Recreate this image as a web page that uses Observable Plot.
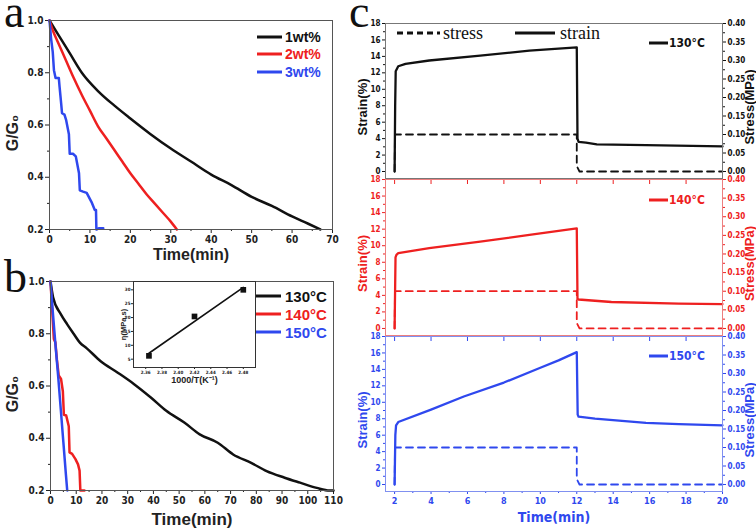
<!DOCTYPE html>
<html><head><meta charset="utf-8">
<script src="https://cdn.jsdelivr.net/npm/d3@7"></script>
<script src="https://cdn.jsdelivr.net/npm/@observablehq/plot@0.6"></script>
<style>
body{margin:0;background:#fff;}
#root{position:relative;width:756px;height:530px;overflow:hidden;background:#fff;}
#root > .p{position:absolute;}
.lbl{position:absolute;white-space:nowrap;}
.leg{position:absolute;display:flex;align-items:center;white-space:nowrap;}
</style></head><body><div id="root"></div>
<script>
// ---------- Panel a: G/G0 vs time, concentrations ----------
const aTime1  = [0, 2, 5, 8, 12, 16, 20, 25, 30, 35, 40, 45, 50, 55, 60, 64, 67];
const aRatio1 = [1.0, 0.95, 0.875, 0.80, 0.73, 0.675, 0.625, 0.565, 0.51, 0.46, 0.41, 0.37, 0.325, 0.29, 0.25, 0.222, 0.2];
const aTime2  = [0, 1, 2, 4, 6, 8, 10, 12, 14, 16, 18, 20, 22, 24, 26, 28, 30, 31.5];
const aRatio2 = [1.0, 0.955, 0.92, 0.85, 0.78, 0.715, 0.655, 0.595, 0.55, 0.505, 0.46, 0.415, 0.375, 0.335, 0.3, 0.265, 0.23, 0.2];
const aTime3  = [0, 0.4, 0.8, 1.1, 1.5, 2.3, 2.5, 2.9, 3.1, 3.7, 4.1, 4.8, 5.0, 5.8, 6.5, 7.3, 7.5, 8.3, 9.2, 10.4, 11.2, 11.5, 11.6, 12.3, 13.3];
const aRatio3 = [1.0, 0.93, 0.88, 0.81, 0.78, 0.78, 0.745, 0.68, 0.645, 0.64, 0.62, 0.565, 0.49, 0.49, 0.48, 0.415, 0.35, 0.345, 0.34, 0.305, 0.275, 0.275, 0.2, 0.205, 0.205];
const aLabels = ["1wt%", "2wt%", "3wt%"];

// ---------- Panel b: G/G0 vs time, temperatures ----------
const bTime130  = [0, 1, 4, 6.5, 9, 11.5, 14, 19.5, 26, 32.5, 39, 45, 52, 58, 65, 71, 78, 84, 91, 97, 103.5, 108.5, 110];
const bRatio130 = [1.0, 0.94, 0.875, 0.836, 0.8, 0.765, 0.745, 0.695, 0.652, 0.607, 0.556, 0.505, 0.46, 0.415, 0.383, 0.338, 0.306, 0.274, 0.249, 0.23, 0.21, 0.2, 0.2];
const bTime140  = [0, 0.6, 1.3, 1.9, 2.5, 3.2, 4.1, 4.8, 5.2, 6.1, 7.1, 7.4, 8.4, 9.7, 10.7, 11.3, 11.6, 13.2];
const bRatio140 = [1.0, 0.9, 0.78, 0.767, 0.7, 0.64, 0.627, 0.58, 0.49, 0.487, 0.446, 0.346, 0.34, 0.32, 0.3, 0.276, 0.2, 0.2];
const bTime150  = [0, 1, 2, 3, 4, 5, 6, 6.5];
const bRatio150 = [1.0, 0.87, 0.75, 0.635, 0.51, 0.385, 0.26, 0.2];
const bLabels = ["130°C", "140°C", "150°C"];

// ---------- Inset: viscosity vs 1000/T ----------
const insetInvT = [2.364, 2.42, 2.48];
const insetVisc = [6.2, 20.4, 30.0];
const insetXTicks = [2.36, 2.38, 2.40, 2.42, 2.44, 2.46, 2.48];
const insetYTicks = [5, 10, 15, 20, 25, 30];

// ---------- Panel c: creep strain and stress ----------
const cTime130   = [2, 2.03, 2.06, 2.2, 2.6, 3.9, 6.7, 9.4, 12.0, 12.04, 12.1, 12.5, 13.1, 15.8, 20];
const cStrain130 = [0, 8, 12.2, 12.8, 13.1, 13.5, 14.1, 14.7, 15.1, 4.0, 3.6, 3.5, 3.3, 3.2, 3.05];
const cTime140   = [2, 2.05, 2.1, 2.2, 3.9, 6.7, 9.4, 12.0, 12.04, 12.1, 13.9, 17.6, 20];
const cStrain140 = [0, 8.6, 8.9, 9.1, 9.7, 10.5, 11.3, 12.1, 3.6, 3.5, 3.2, 3.0, 2.95];
const cTime150   = [2, 2.04, 2.08, 2.2, 4, 5.8, 8, 10, 11, 12, 12.05, 12.1, 13, 15.8, 17.6, 20];
const cStrain150 = [0, 6, 7.2, 7.6, 9.1, 10.7, 12.4, 14.2, 15.1, 16.1, 8.5, 8.25, 8.0, 7.5, 7.35, 7.2];
const cStressTime = [2, 2.02, 12, 12, 12.15, 20];
const cStress     = [0, 0.1, 0.1, 0.015, 0, 0];
const cLabels = ["130°C", "140°C", "150°C"];

// ---------- Ticks ----------
const aTimeTicks = [0, 10, 20, 30, 40, 50, 60, 70];
const aTimeMinor = [5, 15, 25, 35, 45, 55, 65];
const bTimeTicks = [0, 10, 20, 30, 40, 50, 60, 70, 80, 90, 100, 110];
const bTimeMinor = [5, 15, 25, 35, 45, 55, 65, 75, 85, 95, 105];
const ratioTicks = [0.2, 0.4, 0.6, 0.8, 1.0];
const ratioMinor = [0.3, 0.5, 0.7, 0.9];
const cTimeTicks = [2, 4, 6, 8, 10, 12, 14, 16, 18, 20];
const cTimeMinor = [3, 5, 7, 9, 11, 13, 15, 17, 19];
const cStrainTicks = [0, 2, 4, 6, 8, 10, 12, 14, 16, 18];
const cStrainMinor = [1, 3, 5, 7, 9, 11, 13, 15, 17];
const cStressTicks = [0, 0.05, 0.10, 0.15, 0.20, 0.25, 0.30, 0.35, 0.40];
const cStressMinor = [0.025, 0.075, 0.125, 0.175, 0.225, 0.275, 0.325, 0.375];

const BLACK = "#111111", RED = "#ee2020", BLUE = "#2f48ee";
const NARROW = "'Liberation Sans Narrow','Arial Narrow','DejaVu Sans Condensed',sans-serif";
const SANS = "'Liberation Sans',Arial,sans-serif";
const SERIF = "'Liberation Serif','Times New Roman',serif";
const K = 18 / 0.40; // stress (MPa) -> strain-axis units
const MID = {textAnchor: "middle", lineAnchor: "middle"};

const rows = (ts, vs) => ts.map((t, i) => ({t, v: vs[i]}));
const root = document.getElementById("root");
function put(el, left, top) {
  const d = document.createElement("div");
  d.className = "p"; d.style.left = left + "px"; d.style.top = top + "px";
  d.appendChild(el); root.appendChild(d);
}
const baseStyle = (size, font = NARROW) => ({fontFamily: font, fontSize: size + "px", fontWeight: "bold", background: "transparent", overflow: "visible", color: "#222", maxWidth: "none"});

// ---------- Panel a ----------
put(Plot.plot({
  width: 380, height: 262, marginLeft: 49, marginRight: 48, marginTop: 20, marginBottom: 33,
  x: {domain: [0, 70], axis: null}, y: {domain: [0.2, 1.0], axis: null},
  style: baseStyle(10),
  marks: [
    Plot.axisX(aTimeTicks, {tickSize: 4, tickPadding: 2, label: null}),
    Plot.axisX(aTimeMinor, {tickSize: 2, fill: "none", label: null}),
    Plot.axisY(ratioTicks, {tickSize: 4, tickPadding: 2, tickFormat: ".1f", label: null}),
    Plot.axisY(ratioMinor, {tickSize: 2, fill: "none", label: null}),
    Plot.line(rows(aTime1, aRatio1), {x: "t", y: "v", stroke: BLACK, strokeWidth: 2.5, curve: "monotone-x"}),
    Plot.line(rows(aTime2, aRatio2), {x: "t", y: "v", stroke: RED, strokeWidth: 2.5, curve: "monotone-x"}),
    Plot.line(rows(aTime3, aRatio3), {x: "t", y: "v", stroke: BLUE, strokeWidth: 2.5}),
    Plot.frame({stroke: "#555"}),
    Plot.text(["Time(min)"], {frameAnchor: "bottom", dy: 25, fontSize: 16, fontFamily: SANS, ...MID}),
    Plot.text(["G/G₀"], {frameAnchor: "left", dx: -37, dy: 8, rotate: -90, fontSize: 16, fontFamily: SANS, ...MID})
  ]
}), 0, 0);

// ---------- Panel b ----------
put(Plot.plot({
  width: 380, height: 270, marginLeft: 50, marginRight: 47, marginTop: 21, marginBottom: 40,
  x: {domain: [0, 110], axis: null}, y: {domain: [0.2, 1.0], axis: null},
  style: baseStyle(10),
  marks: [
    Plot.axisX(bTimeTicks, {tickSize: 4, tickPadding: 2, label: null}),
    Plot.axisX(bTimeMinor, {tickSize: 2, fill: "none", label: null}),
    Plot.axisY(ratioTicks, {tickSize: 4, tickPadding: 2, tickFormat: ".1f", label: null}),
    Plot.axisY(ratioMinor, {tickSize: 2, fill: "none", label: null}),
    Plot.line(rows(bTime130, bRatio130), {x: "t", y: "v", stroke: BLACK, strokeWidth: 2.5, curve: "monotone-x"}),
    Plot.line(rows(bTime140, bRatio140), {x: "t", y: "v", stroke: RED, strokeWidth: 2.5}),
    Plot.line(rows(bTime150, bRatio150), {x: "t", y: "v", stroke: BLUE, strokeWidth: 2.5}),
    Plot.frame({stroke: "#555"}),
    Plot.text(["Time(min)"], {frameAnchor: "bottom", dy: 29, fontSize: 17, fontFamily: SANS, ...MID}),
    Plot.text(["G/G₀"], {frameAnchor: "left", dx: -38, dy: 8, rotate: -90, fontSize: 16, fontFamily: SANS, ...MID})
  ]
}), 0, 260);

// ---------- Inset ----------
put(Plot.plot({
  width: 162, height: 116, marginLeft: 30, marginRight: 10, marginTop: 10, marginBottom: 20,
  x: {domain: [2.345, 2.495], axis: null}, y: {domain: [2, 33], axis: null},
  style: baseStyle(4.5),
  marks: [
    Plot.frame({fill: "white", stroke: "none"}),
    Plot.axisX(insetXTicks, {tickSize: 2, tickPadding: 1, tickFormat: ".2f", label: null}),
    Plot.axisY(insetYTicks, {tickSize: 2, tickPadding: 1, label: null}),
    Plot.linearRegressionY(rows(insetInvT, insetVisc), {x: "t", y: "v", ci: 0, stroke: BLACK, strokeWidth: 1.6}),
    Plot.dot(rows(insetInvT, insetVisc), {x: "t", y: "v", symbol: "square", r: 3.2, fill: BLACK}),
    Plot.frame({stroke: "#333"}),
    Plot.text(["1000/T(K⁻¹)"], {frameAnchor: "bottom", dy: 13, fontSize: 9, fontFamily: SANS, ...MID}),
    Plot.text(["η(MPa.s)"], {frameAnchor: "left", dx: -10, rotate: -90, fontSize: 7.5, fontFamily: SANS, ...MID})
  ]
}), 103, 271);

// ---------- Panel c ----------
function cPanel(strainRows, color, frameColor, height, mt, mb, showX, topTicks) {
  return Plot.plot({
    width: 426, height, marginLeft: 55, marginRight: 34, marginTop: mt, marginBottom: mb,
    x: {domain: [1.5, 20], axis: null}, y: {domain: [-0.85, 18], axis: null},
    style: baseStyle(8),
    marks: [
      Plot.axisY(cStrainTicks, {tickSize: 3, tickPadding: 2, color, label: null}),
      Plot.axisY(cStrainMinor, {tickSize: 2, stroke: color, fill: "none", label: null}),
      Plot.axisY(cStressTicks.map(s => s * K), {anchor: "right", tickSize: 3, tickPadding: 2, color, label: null, tickFormat: d => (d / K).toFixed(2)}),
      Plot.axisY(cStressMinor.map(s => s * K), {anchor: "right", tickSize: 2, stroke: color, fill: "none", label: null}),
      showX ? Plot.axisX(cTimeTicks, {tickSize: 3, tickPadding: 3, color, label: null, fontSize: 9}) : null,
      showX ? Plot.axisX(cTimeMinor, {tickSize: 2, stroke: color, fill: "none", label: null}) : null,
      topTicks ? Plot.axisX(cTimeTicks, {anchor: "top", tickSize: -4, stroke: color, fill: "none", label: null}) : null,
      Plot.line(rows(cStressTime, cStress), {x: "t", y: d => d.v * K, stroke: color, strokeWidth: 1.8, strokeDasharray: "7,5"}),
      Plot.line(strainRows, {x: "t", y: "v", stroke: color, strokeWidth: 2.3}),
      Plot.frame({stroke: frameColor}),
      Plot.text(["Strain(%)"], {frameAnchor: "left", dx: -23, dy: 6, rotate: -90, fill: color, fontSize: 13, fontFamily: SANS, ...MID}),
      Plot.text(["Stress(MPa)"], {frameAnchor: "right", dx: 27, dy: 6, rotate: -90, fill: color, fontSize: 13, fontFamily: SANS, ...MID}),
      showX ? Plot.text(["Time(min)"], {frameAnchor: "bottom", dy: 26, fill: color, fontSize: 14, ...MID}) : null
    ]
  });
}
put(cPanel(rows(cTime130, cStrain130), BLACK, "#777", 178, 23, 0, false, false), 330, 0);
put(cPanel(rows(cTime140, cStrain140), RED, "#ec7f7f", 156, 0, 0, false, true), 330, 179);
put(cPanel(rows(cTime150, cStrain150), BLUE, "#8090f0", 195, 0, 40, true, true), 330, 336);

// ---------- Legends & panel letters ----------
function legendRow(left, cy, color, label, {w = 25, size = 14, font = SANS, weight = "bold", dash = null, sw = 3, gap = 3} = {}) {
  const d = document.createElement("div");
  d.className = "leg";
  d.style.left = left + "px"; d.style.top = (cy - 10) + "px"; d.style.height = "20px";
  d.style.font = `${weight} ${size}px ${font}`; d.style.color = color;
  d.innerHTML = `<svg width="${w}" height="6" style="margin-right:${gap}px;display:block"><line x1="0" x2="${w}" y1="3" y2="3" stroke="${color}" stroke-width="${sw}" ${dash ? `stroke-dasharray="${dash}"` : ""}/></svg><span>${label}</span>`;
  root.appendChild(d);
}
[BLACK, RED, BLUE].forEach((c, i) => legendRow(257, [37, 54, 72][i], c, aLabels[i], {w: 25, size: 14}));
[BLACK, RED, BLUE].forEach((c, i) => legendRow(256, [296, 314, 332][i], c, bLabels[i], {w: 25, size: 15, gap: 4}));
legendRow(397, 33, BLACK, "stress", {w: 43, size: 18, font: SERIF, weight: "normal", dash: "6,4", sw: 3});
legendRow(515, 33, BLACK, "strain", {w: 40, size: 18, font: SERIF, weight: "normal", sw: 3, gap: 5});
[BLACK, RED, BLUE].forEach((c, i) => legendRow(649, [43, 200, 356][i], c, cLabels[i], {w: 19, size: 12, font: NARROW, sw: 3, gap: 1}));

function letter(ch, left, top) {
  const d = document.createElement("div");
  d.className = "lbl";
  d.style.left = left + "px"; d.style.top = top + "px";
  d.style.font = `46px/24px ${SERIF}`; d.style.color = "#111";
  d.textContent = ch; root.appendChild(d);
}
letter("a", 4, 0);
letter("b", 4, 265);
letter("c", 349, 0);
</script></body></html>
